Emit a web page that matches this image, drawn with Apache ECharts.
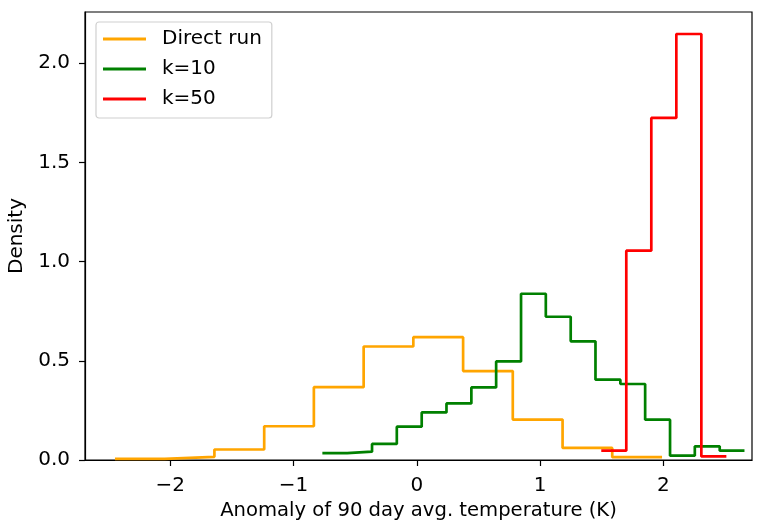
<!DOCTYPE html>
<html>
<head>
<meta charset="utf-8">
<script src="https://cdn.jsdelivr.net/npm/echarts@6/dist/echarts.min.js"></script>
<style>
  html, body { margin: 0; padding: 0; background: #fff; }
  #chart { width: 765px; height: 521px; }
</style>
</head>
<body>
<div id="chart"></div>
<script>
// bin edges and densities
const directEdges = [-2.449, -2.045, -1.642, -1.238, -0.835, -0.431, -0.028, 0.376, 0.779, 1.183, 1.586, 1.990]
const directDensity = [0.006, 0.016, 0.053, 0.170, 0.367, 0.572, 0.619, 0.448, 0.204, 0.061, 0.014]

const k10Edges = [-0.766, -0.565, -0.363, -0.162, 0.040, 0.241, 0.443, 0.644, 0.846, 1.047, 1.249, 1.450, 1.652, 1.853, 2.055, 2.256, 2.458, 2.659]
const k10Density = [0.035, 0.042, 0.081, 0.168, 0.240, 0.285, 0.366, 0.497, 0.838, 0.722, 0.598, 0.405, 0.383, 0.203, 0.022, 0.069, 0.047]

const k50Edges = [1.497, 1.700, 1.903, 2.106, 2.309, 2.512]
const k50Density = [0.047, 1.055, 1.724, 2.147, 0.018]

const xTicks = [-2, -1, 0, 1, 2]
const yTicks = [0, 0.5, 1.0, 1.5, 2.0]

// step 'end': horizontal at each bin's density, closing point at the last edge
function stepData (edges, dens) {
  const pts = dens.map((d, i) => [edges[i], d])
  pts.push([edges[edges.length - 1], dens[dens.length - 1]])
  return pts
}

const font = 'DejaVu Sans'
const fs = 20

function stepSeries (name, color, edges, dens) {
  return {
    name: name,
    type: 'line',
    step: 'end',
    showSymbol: false,
    animation: false,
    lineStyle: { color: color, width: 2.7 },
    itemStyle: { color: color },
    data: stepData(edges, dens)
  }
}

const chart = echarts.init(document.getElementById('chart'))
chart.setOption({
  backgroundColor: '#fff',
  animation: false,
  textStyle: { fontFamily: font },
  grid: {
    left: 85,
    right: 13,
    top: 12,
    bottom: 61,
    show: true,
    borderColor: '#000',
    borderWidth: 1.2,
    containLabel: false,
    outerBoundsMode: 'none'
  },
  legend: {
    orient: 'vertical',
    left: 96,
    top: 22,
    padding: [7, 10, 9, 7],
    itemGap: 10,
    itemWidth: 43,
    itemHeight: 3,
    icon: 'rect',
    backgroundColor: '#fff',
    borderColor: '#d0d0d0',
    borderWidth: 1.2,
    borderRadius: 3,
    textStyle: {
      fontFamily: font,
      fontSize: fs,
      color: '#000',
      lineHeight: 20,
      padding: [0, 0, 0, 11]
    },
    data: ['Direct run', 'k=10', 'k=50']
  },
  xAxis: {
    type: 'value',
    min: -2.692,
    max: 2.72,
    name: 'Anomaly of 90 day avg. temperature (K)',
    nameLocation: 'middle',
    nameGap: 40,
    nameTextStyle: { fontFamily: font, fontSize: 19.6, color: '#000' },
    splitLine: { show: false },
    axisLine: { show: true, onZero: false, lineStyle: { color: '#000', width: 1.2 } },
    axisTick: { show: true, length: 6, customValues: xTicks, lineStyle: { color: '#000', width: 1.2 } },
    axisLabel: {
      customValues: xTicks,
      margin: 16,
      fontFamily: font,
      fontSize: fs,
      color: '#000',
      formatter: v => (v < 0 ? '\u2212' + Math.abs(v) : String(v))
    }
  },
  yAxis: {
    type: 'value',
    min: 0,
    max: 2.258,
    name: 'Density',
    nameLocation: 'middle',
    nameGap: 55,
    nameTextStyle: { fontFamily: font, fontSize: fs, color: '#000' },
    splitLine: { show: false },
    axisLine: { show: true, onZero: false, lineStyle: { color: '#000', width: 1.2 } },
    axisTick: { show: true, length: 6, customValues: yTicks, lineStyle: { color: '#000', width: 1.2 } },
    axisLabel: {
      customValues: yTicks,
      margin: 15,
      fontFamily: font,
      fontSize: fs,
      color: '#000',
      formatter: v => v.toFixed(1)
    }
  },
  series: [
    stepSeries('Direct run', '#ffa500', directEdges, directDensity),
    stepSeries('k=10', '#008000', k10Edges, k10Density),
    stepSeries('k=50', '#ff0000', k50Edges, k50Density)
  ]
})
</script>
</body>
</html>
